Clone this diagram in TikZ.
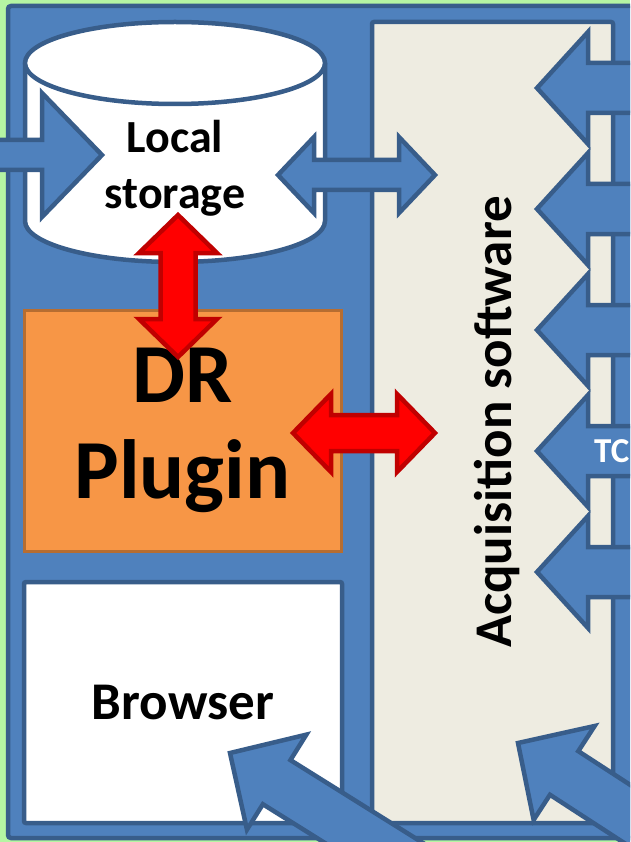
\documentclass[tikz,border=0pt]{standalone}
\usepackage{fontspec}
\setmainfont{Carlito}
\definecolor{slidegreen}{RGB}{181,245,163}
\definecolor{boxblue}{RGB}{79,129,189}
\definecolor{edgeblue}{RGB}{56,93,138}
\definecolor{panelbeige}{RGB}{238,236,225}
\definecolor{plugorange}{RGB}{247,150,70}
\definecolor{edgeorange}{RGB}{182,109,49}
\definecolor{edgered}{RGB}{192,0,0}

\tikzset{
	bluearrow/.style={fill=boxblue, draw=edgeblue, line width=4.5pt},
	redarrow/.style={fill=red, draw=edgered, line width=4.5pt},
	txt/.style={font=\bfseries, text=black, align=center},
	plugbox/.style={fill=plugorange, draw=edgeorange, line width=3pt},
	whitebox/.style={fill=white, draw=edgeblue, line width=4.5pt, rounded corners=2pt},
}

% block arrow: style, tip, angle, length, head length, head half, shaft half
\newcommand{\onewayarrow}[7]{
	\draw [#1, shift={#2}, rotate=#3] (0,0) -- (#5,#6) -- (#5,#7) -- (#4,#7)
		-- (#4,-#7) -- (#5,-#7) -- (#5,-#6) -- cycle;
}
% double block arrow, same arguments
\newcommand{\twowayarrow}[7]{
	\draw [#1, shift={#2}, rotate=#3] (0,0) -- (#5,#6) -- (#5,#7) -- ({#4-#5},#7)
		-- ({#4-#5},#6) -- (#4,0) -- ({#4-#5},-#6) -- ({#4-#5},-#7)
		-- (#5,-#7) -- (#5,-#6) -- cycle;
}

\begin{document}
\begin{tikzpicture}[x=1pt, y=-1pt]
	\clip (0,0) rectangle (630,842);
	\fill [slidegreen] (0,0) rectangle (630,842);
	\draw [fill=boxblue, draw=edgeblue, line width=4.5pt, rounded corners=3pt] (8,6) rectangle (680,838);
	\draw [fill=panelbeige, draw=edgeblue, line width=4.5pt, rounded corners=2pt] (372,22) rectangle (613,823);

	% local storage
	\draw [fill=white, draw=edgeblue, line width=4.5pt] (25,63) -- (25,221)
		arc [start angle=180, end angle=360, x radius=150pt, y radius=41pt] -- (325,63);
	\draw [fill=white, draw=edgeblue, line width=4.5pt] (175,63) ellipse [x radius=150pt, y radius=41pt];
	\node [txt, font=\bfseries\fontsize{46}{56}\selectfont] (store) at (175,168) {Local\\storage};

	\node [plugbox, minimum width=317pt, minimum height=241pt, txt,
		font=\bfseries\fontsize{84}{96}\selectfont] (plugin) at (182.5,430.5) {DR\\Plugin};
	\node [whitebox, minimum width=318pt, minimum height=241pt, txt,
		font=\bfseries\fontsize{53}{60}\selectfont] (browser) at (183,702.5) {Browser};

	\node [txt, rotate=90, font=\bfseries\fontsize{53}{60}\selectfont] (acq) at (497,422) {Acquisition software};

	% arrows
	\onewayarrow{bluearrow}{(102,155)}{180}{130}{60}{62}{15}
	\twowayarrow{bluearrow}{(278,175)}{0}{157}{36}{38}{15}
	\twowayarrow{redarrow}{(178,215)}{-90}{142}{38}{39}{17.5}
	\twowayarrow{redarrow}{(293,433)}{0}{142}{38}{39}{18}
	\foreach \y in {88,209,330,451,572} {
		\onewayarrow{bluearrow}{(537,\y)}{0}{130}{51}{56}{25}
	}
	\onewayarrow{bluearrow}{(230,753)}{-32}{220}{55}{56}{26}
	\onewayarrow{bluearrow}{(518,743)}{-33}{220}{55}{56}{26}

	\node [anchor=base west, text=white, inner sep=0pt, font=\bfseries\fontsize{35}{40}\selectfont] (tcp) at (594,462) {TC};
\end{tikzpicture}
\end{document}
